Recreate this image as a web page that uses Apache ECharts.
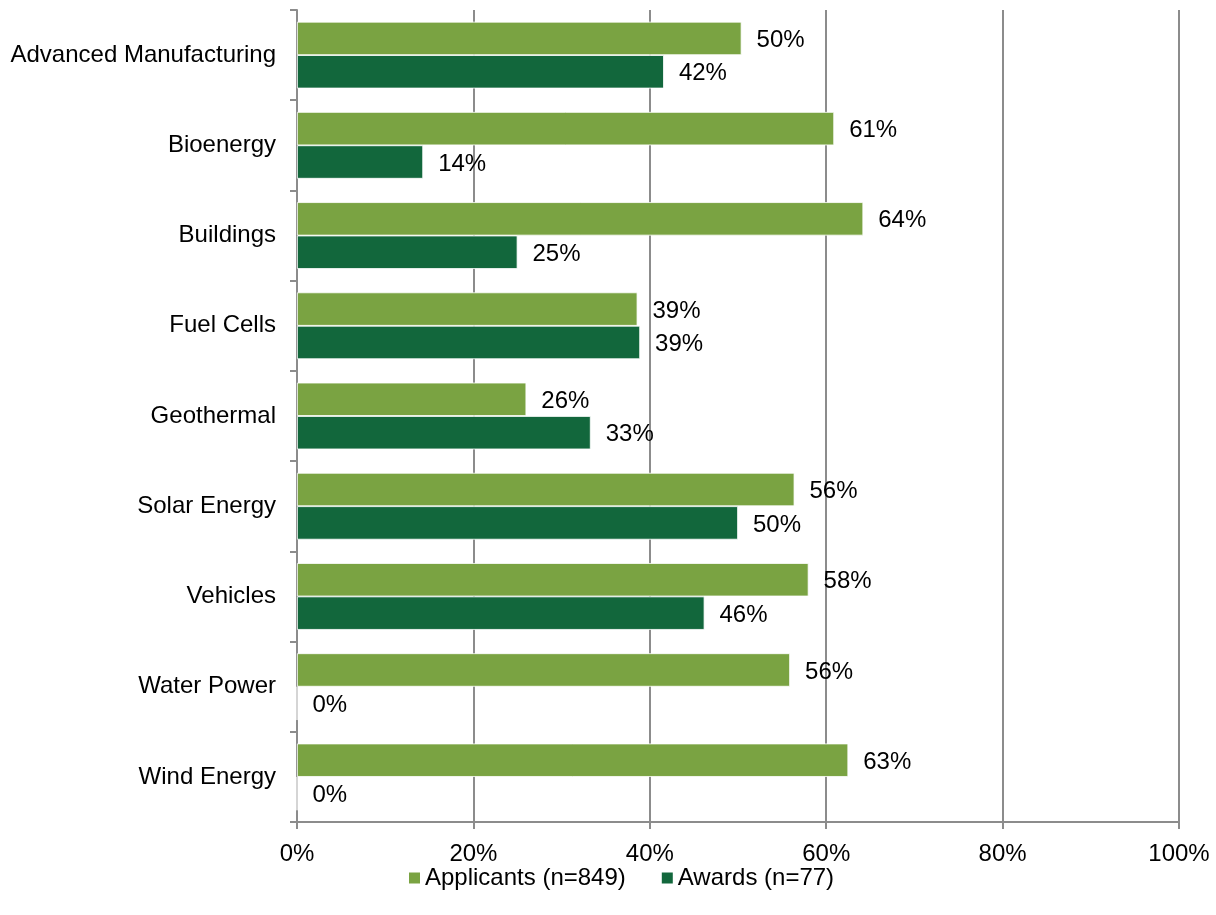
<!DOCTYPE html>
<html>
<head>
<meta charset="utf-8">
<script src="https://cdn.jsdelivr.net/npm/echarts@6/dist/echarts.min.js"></script>
<style>
  html, body { margin: 0; padding: 0; background: #fff; }
  #chart { width: 1216px; height: 915px; }
</style>
</head>
<body>
<div id="chart"></div>
<script>
// Share of applicants and awards by technology area (percent)
const categories = [
  'Advanced Manufacturing', 'Bioenergy', 'Buildings', 'Fuel Cells',
  'Geothermal', 'Solar Energy', 'Vehicles', 'Water Power', 'Wind Energy'
];
const applicants = [50.4, 60.9, 64.2, 38.6, 26.0, 56.4, 58.0, 55.9, 62.5];
const awards = [41.6, 14.3, 25.0, 38.9, 33.3, 50.0, 46.2, 0, 0];
const seriesNames = ['Applicants (n=849)', 'Awards (n=77)'];
const xTicks = [0, 20, 40, 60, 80, 100];

const FONT = '"Liberation Sans", Arial, sans-serif';
const FS = 24;
const AXIS_GRAY = '#8c8c8c';

const chart = echarts.init(document.getElementById('chart'), null, { renderer: 'canvas' });

const labelOpt = {
  show: true,
  position: 'right',
  distance: 15,
  offset: [0, 2],
  color: '#000',
  fontFamily: FONT,
  fontSize: FS,
  formatter: p => Math.round(p.value) + '%'
};

chart.setOption({
  animation: false,
  backgroundColor: '#fff',
  grid: { left: 297, right: 37, top: 10, bottom: 93, containLabel: false },
  legend: {
    top: 861,
    left: 402,
    itemWidth: 13,
    itemHeight: 13,
    itemGap: 34,
    icon: 'rect',
    textStyle: { fontFamily: FONT, fontSize: FS, color: '#000', padding: [0, 0, 0, -1] },
    data: seriesNames
  },
  xAxis: {
    type: 'value',
    min: xTicks[0],
    max: xTicks[xTicks.length - 1],
    interval: 20,
    axisLine: { show: true, lineStyle: { color: AXIS_GRAY, width: 2 } },
    axisTick: { show: true, length: 7, lineStyle: { color: AXIS_GRAY, width: 2 } },
    axisLabel: {
      margin: 20,
      color: '#000',
      fontFamily: FONT,
      fontSize: FS,
      formatter: v => v + '%'
    },
    splitLine: { show: true, lineStyle: { color: AXIS_GRAY, width: 2 } }
  },
  yAxis: {
    type: 'category',
    inverse: true,
    data: categories,
    axisLine: { show: true, lineStyle: { color: AXIS_GRAY, width: 2 } },
    axisTick: { show: true, length: 7, alignWithLabel: false, lineStyle: { color: AXIS_GRAY, width: 2 } },
    axisLabel: {
      margin: 21,
      color: '#000',
      fontFamily: FONT,
      fontSize: FS
    },
    splitLine: { show: false }
  },
  series: [
    {
      name: seriesNames[0],
      type: 'bar',
      data: applicants,
      barGap: '0%',
      barCategoryGap: '26%',
      itemStyle: { color: '#7aa342', borderColor: '#ffffff', borderWidth: 0.8 },
      label: labelOpt
    },
    {
      name: seriesNames[1],
      type: 'bar',
      data: awards,
      barGap: '0%',
      barCategoryGap: '26%',
      itemStyle: { color: '#12673c', borderColor: '#ffffff', borderWidth: 0.8 },
      label: labelOpt
    }
  ]
});
</script>
</body>
</html>
